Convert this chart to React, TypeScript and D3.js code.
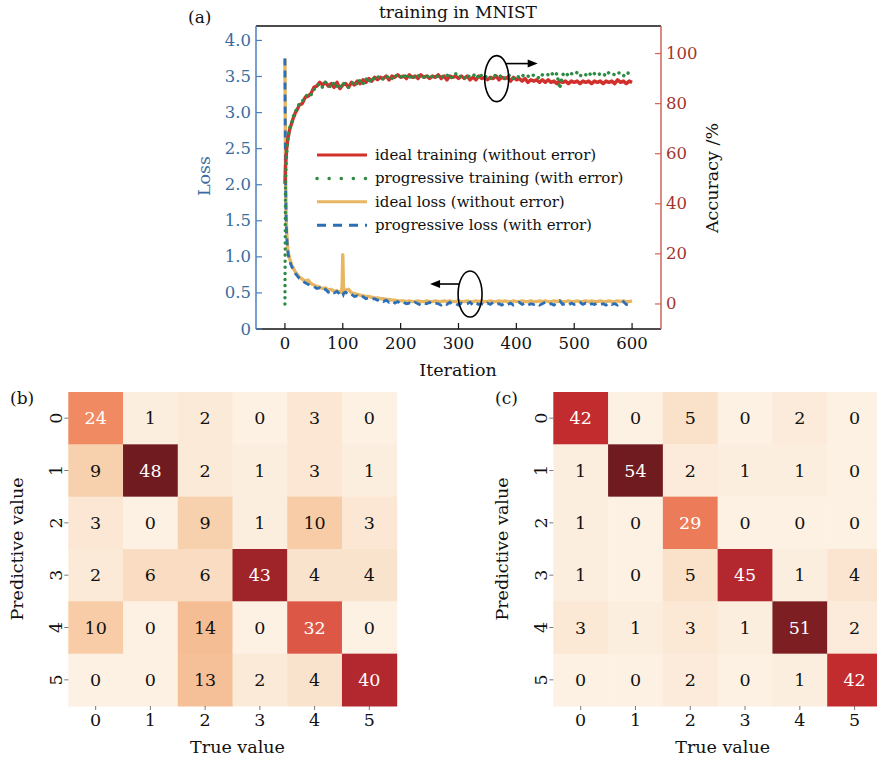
import React from 'react';
import * as d3 from 'd3';

// iterations sampled for the accuracy curves
const iterAcc = [0, 1, 2, 3, 4, 5, 6, 8, 10, 12, 14, 16, 18,
  20, 25, 30, 35, 40, 45, 50, 55, 60, 65, 70, 75, 80, 85, 90, 95, 100, 105, 110, 115,
  120, 125, 130, 135, 140, 145, 150, 155, 160, 165, 170, 175, 180, 185, 190, 195, 200, 205, 210, 215,
  220, 225, 230, 235, 240, 245, 250, 255, 260, 265, 270, 275, 280, 285, 290, 295, 300, 305, 310, 315,
  320, 325, 330, 335, 340, 345, 350, 355, 360, 365, 370, 375, 380, 385, 390, 395, 400, 405, 410, 415,
  420, 425, 430, 435, 440, 445, 450, 455, 460, 465, 470, 475, 480, 485, 490, 495, 500, 505, 510, 515,
  520, 525, 530, 535, 540, 545, 550, 555, 560, 565, 570, 575, 580, 585, 590, 595, 600];

const idealTraining = [48, 55, 58, 62, 64, 66, 67, 69.5, 71, 72.5, 74, 75, 76.5,
  77, 79.5, 80, 82.5, 83, 84, 86.5, 87, 88.5, 87.5,
  88.5, 87, 88, 86.5, 88.5, 86, 87.5, 88, 86.5, 88.5,
  87.5, 89, 88, 89.5, 88.5, 90, 89, 90.5, 89.5, 90.5,
  90, 91, 89.5, 91, 90.5, 91.5, 90.5, 91, 90, 91.5,
  90.5, 91, 90, 91.5, 90.5, 91, 90, 91, 90.5, 91.5,
  90, 91, 89.5, 91, 90.5, 91, 90, 91, 90, 91,
  89.5, 90.5, 89.5, 91, 90, 90.5, 89.5, 90.5, 90, 91,
  89.5, 90.5, 90, 90.5, 89, 90.5, 89.5, 90, 89, 90,
  88.5, 89.5, 89, 89.5, 88.5, 89.5, 88.5, 89.5, 88.5, 89,
  88, 89, 88.5, 89, 88, 89, 88.5, 89, 88, 89,
  88.5, 89, 88, 89, 88.5, 89, 88, 89, 88.5, 89,
  88, 89.5, 88.5, 89, 88, 89, 88.5];

const progressiveTraining = [0, 48, 55, 60, 63, 65, 67.5, 70, 72, 72.5, 74.5, 76, 77,
  77.5, 80, 81, 82.5, 84, 83.5, 85.5, 87, 88, 86.5,
  88.5, 87.5, 86.5, 88.5, 87, 86, 88.5, 87, 86.5, 88,
  89, 87.5, 89.5, 88, 90, 88.5, 90.5, 89.5, 90.5, 91,
  89.5, 90.5, 91, 90, 91.5, 90.5, 91, 90, 91.5, 90.5,
  91.5, 90, 91, 91.5, 90.5, 91.5, 90, 91, 91.5, 90.5,
  91, 90.5, 91.5, 90, 91, 92, 90.5, 91, 90, 91.5,
  90.5, 91, 92, 90, 91.5, 90.5, 91, 90, 91.5, 91,
  90.5, 91.5, 90, 91, 91.5, 90, 91, 90.5, 91.5, 90.5,
  91, 90.5, 91.5, 91, 90, 91.5, 92, 91.5, 92.5, 91,
  92, 86, 91.5, 92.5, 91, 92, 91.5, 92.5, 91, 92,
  91.5, 92.5, 91, 92, 92.5, 91.5, 92, 91, 92.5, 92,
  91.5, 92.5, 92, 91, 92.5, 92, 91.5];

// iterations sampled for the loss curves
const iterLoss = [0, 1, 2, 3, 4, 5, 6, 8, 10, 12, 14, 16, 18,
  20, 25, 30, 35, 40, 45, 50, 55, 60, 65, 70, 75, 80, 85, 90, 95,
  98, 99, 100, 101, 102,
  105, 110, 115, 120, 125, 130, 135, 140, 145, 150,
  155, 160, 165, 170, 175, 180, 185, 190, 195, 200,
  205, 210, 215, 220, 225, 230, 235, 240, 245, 250,
  255, 260, 265, 270, 275, 280, 285, 290, 295, 300,
  305, 310, 315, 320, 325, 330, 335, 340, 345, 350,
  355, 360, 365, 370, 375, 380, 385, 390, 395, 400,
  405, 410, 415, 420, 425, 430, 435, 440, 445, 450,
  455, 460, 465, 470, 475, 480, 485, 490, 495, 500,
  505, 510, 515, 520, 525, 530, 535, 540, 545, 550,
  555, 560, 565, 570, 575, 580, 585, 590, 595, 600];

const idealLoss = [3.75, 2.2, 1.6, 1.35, 1.2, 1.1, 1.05, 0.98, 0.93, 0.88, 0.85, 0.82, 0.79,
  0.77, 0.72, 0.69, 0.66, 0.68, 0.63, 0.61, 0.59, 0.58, 0.56, 0.57, 0.54, 0.55, 0.52, 0.53, 0.51,
  0.51, 0.62, 1.03, 0.62, 0.52,
  0.54, 0.55, 0.5, 0.49, 0.48, 0.47, 0.46, 0.45, 0.45, 0.44,
  0.43, 0.43, 0.42, 0.42, 0.41, 0.41, 0.4, 0.4, 0.39, 0.39,
  0.39, 0.38, 0.39, 0.38, 0.38, 0.39, 0.38, 0.38, 0.39, 0.38,
  0.38, 0.39, 0.38, 0.38, 0.39, 0.38, 0.39, 0.38, 0.38, 0.39,
  0.38, 0.38, 0.39, 0.38, 0.38, 0.39, 0.38, 0.39, 0.38, 0.38,
  0.39, 0.38, 0.38, 0.39, 0.38, 0.39, 0.38, 0.38, 0.39, 0.38,
  0.38, 0.39, 0.38, 0.38, 0.39, 0.38, 0.38, 0.39, 0.38, 0.39,
  0.38, 0.38, 0.39, 0.38, 0.39, 0.38, 0.38, 0.39, 0.38, 0.38,
  0.39, 0.38, 0.38, 0.39, 0.38, 0.39, 0.38, 0.38, 0.39, 0.38,
  0.38, 0.39, 0.38, 0.38, 0.39, 0.38, 0.39, 0.38, 0.38, 0.39];

const progressiveLoss = [3.75, 2.1, 1.55, 1.3, 1.18, 1.08, 1.02, 0.96, 0.9, 0.86, 0.83, 0.8, 0.77,
  0.75, 0.7, 0.67, 0.64, 0.62, 0.6, 0.59, 0.56, 0.57, 0.53, 0.55, 0.51, 0.53, 0.5, 0.52, 0.48,
  0.5, 0.49, 0.5, 0.48, 0.5,
  0.51, 0.47, 0.48, 0.45, 0.46, 0.43, 0.45, 0.42, 0.43, 0.41,
  0.42, 0.4, 0.41, 0.38, 0.4, 0.37, 0.39, 0.36, 0.38, 0.35,
  0.37, 0.35, 0.36, 0.34, 0.37, 0.35, 0.33, 0.36, 0.35, 0.37,
  0.34, 0.36, 0.35, 0.33, 0.36, 0.34, 0.37, 0.34, 0.35, 0.33,
  0.36, 0.34, 0.35, 0.37, 0.33, 0.36, 0.34, 0.35, 0.33, 0.36,
  0.34, 0.37, 0.34, 0.35, 0.33, 0.36, 0.34, 0.36, 0.33, 0.35,
  0.37, 0.34, 0.36, 0.33, 0.35, 0.34, 0.36, 0.33, 0.35, 0.37,
  0.34, 0.35, 0.33, 0.36, 0.39, 0.34, 0.35, 0.33, 0.36, 0.34,
  0.35, 0.37, 0.34, 0.36, 0.33, 0.35, 0.34, 0.36, 0.34, 0.35,
  0.33, 0.36, 0.34, 0.35, 0.33, 0.36, 0.38, 0.34, 0.33, 0.35];

const lossTicks = [0, 0.5, 1, 1.5, 2, 2.5, 3, 3.5, 4];
const accTicks = [0, 20, 40, 60, 80, 100];
const iterTicks = [0, 100, 200, 300, 400, 500, 600];

const classes = ['0', '1', '2', '3', '4', '5'];
const confusionB = [
  [24, 1, 2, 0, 3, 0],
  [9, 48, 2, 1, 3, 1],
  [3, 0, 9, 1, 10, 3],
  [2, 6, 6, 43, 4, 4],
  [10, 0, 14, 0, 32, 0],
  [0, 0, 13, 2, 4, 40],
];
const confusionC = [
  [42, 0, 5, 0, 2, 0],
  [1, 54, 2, 1, 1, 0],
  [1, 0, 29, 0, 0, 0],
  [1, 0, 5, 45, 1, 4],
  [3, 1, 3, 1, 51, 2],
  [0, 0, 2, 0, 1, 42],
];

const FONT = '"DejaVu Serif", "Liberation Serif", serif';
const BLUE = '#3a6d9f';
const BLUE_SPINE = '#4a80c0';
const RED_TXT = '#a3352c';
const RED_SPINE = '#d0655a';

// colour ramp picked from the cells (value / max of matrix)
const heatStops = [0, 0.06, 0.125, 0.2, 0.29, 0.5, 0.54, 0.67, 0.78, 0.83, 0.9, 0.94, 1];
const heatColors = ['#fdf1e4', '#fbe7d4', '#f9dcc1', '#f7cda9', '#f5bd93', '#ef8a63', '#ec7b58',
  '#dd5646', '#c22b2f', '#b3282e', '#9d2429', '#7e1e22', '#701b1f'];
const heatColor = d3.scaleLinear<string>().domain(heatStops).range(heatColors).interpolate(d3.interpolateRgb);

// top panel scales
const x = d3.scaleLinear().domain([-50, 650]).range([256, 661]);
const yLoss = d3.scaleLinear().domain([0, 4.2]).range([329, 26]);
const yAcc = d3.scaleLinear().domain([-10, 111]).range([329, 26]);

const lossLine = d3.line<number>().x((_, i) => x(iterLoss[i])).y((d) => yLoss(d));
const accLine = d3.line<number>().x((_, i) => x(iterAcc[i])).y((d) => yAcc(d));

const legendItems = [
  { label: 'ideal training (without error)', color: '#d2302c', dash: undefined, width: 3, cap: 'butt' },
  { label: 'progressive training (with error)', color: '#2e8b43', dash: '0.1 12', width: 3.5, cap: 'round' },
  { label: 'ideal loss (without error)', color: '#e8b662', dash: undefined, width: 3, cap: 'butt' },
  { label: 'progressive loss (with error)', color: '#2b6fb6', dash: '9 7', width: 3, cap: 'butt' },
];

function Arrow({ x1, y1, x2 }: { x1: number; y1: number; x2: number }) {
  const dir = Math.sign(x2 - x1);
  return (
    <g>
      <line x1={x1} y1={y1} x2={x2 - dir * 8} y2={y1} stroke="#000" strokeWidth={1.6} />
      <path d={`M${x2},${y1} L${x2 - dir * 10},${y1 - 4} L${x2 - dir * 10},${y1 + 4} Z`} fill="#000" />
    </g>
  );
}

function Heatmap({ data, x0, x1, tag, tagX }: { data: number[][]; x0: number; x1: number; tag: string; tagX: number }) {
  const xb = d3.scaleBand().domain(classes).range([x0, x1]);
  const yb = d3.scaleBand().domain(classes).range([392, 706]);
  const max = d3.max(data.flat()) as number;
  return (
    <g fontFamily={FONT}>
      {data.map((row, r) =>
        row.map((v, c) => {
          const t = v / max;
          return (
            <g key={`${r}-${c}`}>
              <rect x={xb(classes[c])} y={yb(classes[r])} width={xb.bandwidth() + 0.5} height={yb.bandwidth() + 0.5} fill={heatColor(t)} />
              <text x={(xb(classes[c]) as number) + xb.bandwidth() / 2} y={(yb(classes[r]) as number) + yb.bandwidth() / 2}
                textAnchor="middle" dominantBaseline="central" fontSize={17.5} fill={t >= 0.45 ? '#fff' : '#111'}>{v}</text>
            </g>
          );
        })
      )}
      {classes.map((c) => {
        const cx = (xb(c) as number) + xb.bandwidth() / 2;
        const cy = (yb(c) as number) + yb.bandwidth() / 2;
        return (
          <g key={c}>
            <line x1={cx} x2={cx} y1={706} y2={710} stroke="#555" strokeWidth={0.8} />
            <text x={cx} y={726} textAnchor="middle" fontSize={17.5} fill="#111">{c}</text>
            <line x1={x0 - 4} x2={x0} y1={cy} y2={cy} stroke="#555" strokeWidth={0.8} />
            <text transform={`translate(${x0 - 12},${cy}) rotate(-90)`} textAnchor="middle" dominantBaseline="central" fontSize={17.5} fill="#111">{c}</text>
          </g>
        );
      })}
      <text x={(x0 + x1) / 2 + 5} y={753} textAnchor="middle" fontSize={17.5} fill="#111">True value</text>
      <text transform={`translate(${x0 - 51},549) rotate(-90)`} textAnchor="middle" dominantBaseline="central" fontSize={17.5} fill="#111">Predictive value</text>
      <text x={tagX} y={404} fontSize={17} fill="#111">{tag}</text>
    </g>
  );
}

export default function App() {
  const ellAcc = { cx: x(366), cy: yAcc(90) };
  const ellLoss = { cx: x(320), cy: yLoss(0.485) };
  return (
    <svg width={877} height={763} style={{ position: 'absolute', left: 0, top: 0, background: '#fff' }} fontFamily={FONT}>
      {/* panel (a) */}
      <text x={188} y={23} fontSize={17} fill="#111">(a)</text>
      <text x={458} y={18} textAnchor="middle" fontSize={17} fill="#111">training in MNIST</text>

      <path d={lossLine(idealLoss) as string} fill="none" stroke="#e8b662" strokeWidth={3.4} strokeLinejoin="round" />
      <path d={lossLine(progressiveLoss) as string} fill="none" stroke="#2b6fb6" strokeWidth={2.8} strokeDasharray="7 5" />
      <path d={accLine(idealTraining) as string} fill="none" stroke="#d2302c" strokeWidth={3.4} strokeLinejoin="round" />
      <path d={accLine(progressiveTraining) as string} fill="none" stroke="#2e8b43" strokeWidth={3.4} strokeDasharray="0.1 6" strokeLinecap="round" />

      {/* spines */}
      <line x1={256} x2={661} y1={26} y2={26} stroke="#111" strokeWidth={1.3} />
      <line x1={256} x2={661} y1={329} y2={329} stroke="#111" strokeWidth={1.3} />
      <line x1={256} x2={256} y1={26} y2={329} stroke={BLUE_SPINE} strokeWidth={1.5} />
      <line x1={661} x2={661} y1={26} y2={329} stroke={RED_SPINE} strokeWidth={1.5} />

      {lossTicks.map((t) => (
        <g key={`l${t}`}>
          <line x1={256} x2={262} y1={yLoss(t)} y2={yLoss(t)} stroke={BLUE_SPINE} strokeWidth={1.2} />
          <text x={251} y={yLoss(t)} textAnchor="end" dominantBaseline="central" fontSize={16.5} fill={BLUE}>{t === 0 ? '0' : t.toFixed(1)}</text>
        </g>
      ))}
      {accTicks.map((t) => (
        <g key={`a${t}`}>
          <line x1={655} x2={661} y1={yAcc(t)} y2={yAcc(t)} stroke={RED_SPINE} strokeWidth={1.2} />
          <text x={666} y={yAcc(t)} dominantBaseline="central" fontSize={16.5} fill={RED_TXT}>{t}</text>
        </g>
      ))}
      {iterTicks.map((t) => (
        <g key={`i${t}`}>
          <line x1={x(t)} x2={x(t)} y1={323} y2={329} stroke="#111" strokeWidth={1.2} />
          <text x={x(t)} y={349} textAnchor="middle" fontSize={16.5} fill="#111">{t}</text>
        </g>
      ))}
      <text x={458} y={376} textAnchor="middle" fontSize={17.5} fill="#111">Iteration</text>
      <text transform="translate(204,176) rotate(-90)" textAnchor="middle" dominantBaseline="central" fontSize={17.5} fill={BLUE}>Loss</text>
      <text transform="translate(712,178) rotate(-90)" textAnchor="middle" dominantBaseline="central" fontSize={17.5} fill="#111">Accuracy /%</text>

      {/* annotations */}
      <ellipse cx={ellAcc.cx} cy={ellAcc.cy} rx={12} ry={23} fill="none" stroke="#000" strokeWidth={1.6} />
      <Arrow x1={ellAcc.cx + 9} y1={ellAcc.cy - 15} x2={ellAcc.cx + 41} />
      <ellipse cx={ellLoss.cx} cy={ellLoss.cy} rx={12} ry={23} fill="none" stroke="#000" strokeWidth={1.6} />
      <Arrow x1={ellLoss.cx - 11} y1={ellLoss.cy - 10} x2={ellLoss.cx - 40} />

      {/* legend */}
      {legendItems.map((it, i) => (
        <g key={it.label} transform={`translate(0,${155 + i * 23.4})`}>
          <line x1={317} x2={367} y1={0} y2={0} stroke={it.color} strokeWidth={it.width}
            strokeDasharray={it.dash} strokeLinecap={it.cap as any} />
          <text x={375} y={0} dominantBaseline="central" fontSize={15} fill="#111">{it.label}</text>
        </g>
      ))}

      {/* panels (b) and (c) */}
      <Heatmap data={confusionB} x0={68.3} x1={396.7} tag="(b)" tagX={10} />
      <Heatmap data={confusionC} x0={553.3} x1={882} tag="(c)" tagX={495} />
    </svg>
  );
}
